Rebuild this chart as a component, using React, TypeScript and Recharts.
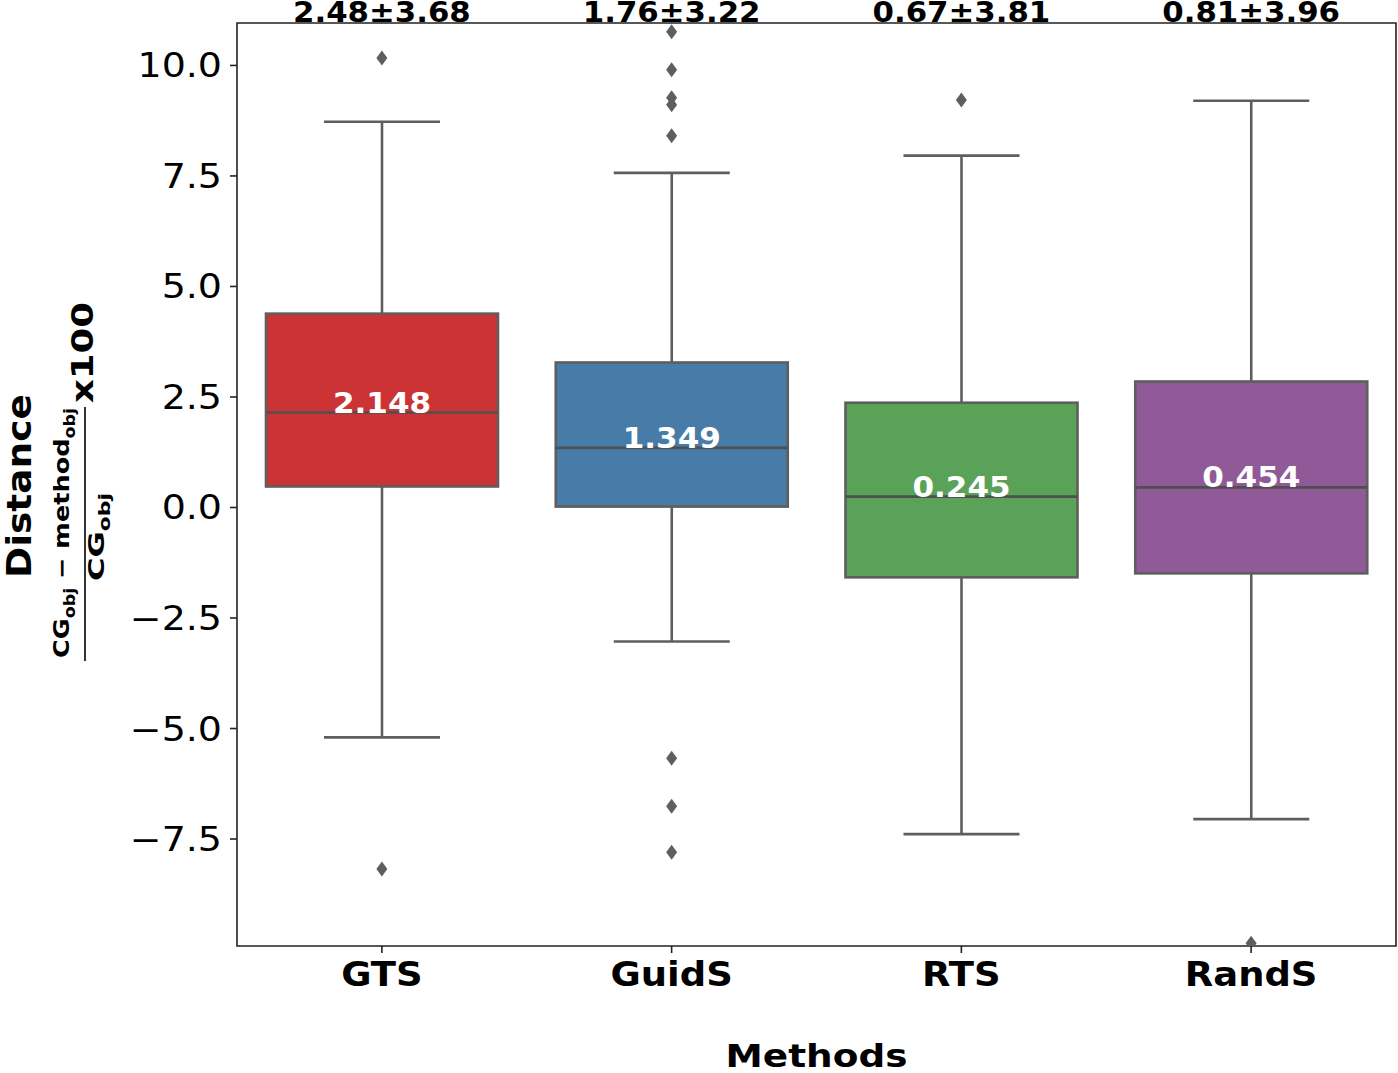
import React from "react";
import { Bar, ComposedChart, ReferenceArea, Scatter, XAxis, YAxis } from "recharts";

const methods = ["GTS", "GuidS", "RTS", "RandS"];
const q1 = [0.475, 0.02, -1.58, -1.49];
const medians = [2.148, 1.349, 0.245, 0.454];
const q3 = [4.385, 3.28, 2.37, 2.85];
const whiskerLow = [-5.2, -3.03, -7.39, -7.05];
const whiskerHigh = [8.725, 7.57, 7.96, 9.2];
const meanStd = ["2.48±3.68", "1.76±3.22", "0.67±3.81", "0.81±3.96"];
const outliers = [
    [10.17, -8.18],
    [10.76, 9.9, 9.27, 9.11, 8.41, -5.67, -6.76, -7.8],
    [9.22],
    [-9.86],
];
const yTicks = [-7.5, -5, -2.5, 0, 2.5, 5, 7.5, 10];

const colors = ["#cc3335", "#477ca8", "#59a257", "#905998"];
const lineColor = "#5e5e5e";
const FONT = "DejaVu Sans";

const boxData = methods.map((name, i) => ({
    name,
    box: [q1[i], q3[i]],
    q1: q1[i],
    q3: q3[i],
    median: medians[i],
    lo: whiskerLow[i],
    hi: whiskerHigh[i],
}));

const outlierData = methods.flatMap((name, i) => outliers[i].map((value) => ({ name, value })));

// text helper: stretched horizontally to match the reference glyph proportions
function Txt({ x, y, size, bold = false, sx = 1, rot = 0, anchor = "middle", fill = "#000", len, children }: any) {
    return (
        <text
            transform={`translate(${x},${y}) rotate(${rot}) scale(${sx},1)`}
            fontSize={size}
            fontFamily={FONT}
            fontWeight={bold ? "bold" : "normal"}
            textAnchor={anchor}
            fill={fill}
            textLength={len}
            lengthAdjust={len ? "spacingAndGlyphs" : undefined}
        >
            {children}
        </text>
    );
}

function BoxShape(props: any) {
    const { x, y, width, height, payload, index } = props;
    const top = Math.min(y, y + height);
    const h = Math.abs(height);
    const k = h / (payload.q3 - payload.q1);
    const py = (v: number) => top + (payload.q3 - v) * k;
    const cx = x + width / 2;
    const cap = width / 4;
    const med = py(payload.median);
    return (
        <g>
            <line x1={cx} x2={cx} y1={top} y2={py(payload.hi)} stroke={lineColor} strokeWidth={2.6} />
            <line x1={cx} x2={cx} y1={top + h} y2={py(payload.lo)} stroke={lineColor} strokeWidth={2.6} />
            <line x1={cx - cap} x2={cx + cap} y1={py(payload.hi)} y2={py(payload.hi)} stroke={lineColor} strokeWidth={2.6} />
            <line x1={cx - cap} x2={cx + cap} y1={py(payload.lo)} y2={py(payload.lo)} stroke={lineColor} strokeWidth={2.6} />
            <rect x={x} y={top} width={width} height={h} fill={colors[index]} stroke={lineColor} strokeWidth={2.6} />
            <line x1={x} x2={x + width} y1={med} y2={med} stroke="#4f4f4f" strokeWidth={2.6} />
            <Txt x={cx} y={med} size={29} bold sx={1.07} fill="#fff">
                {payload.median.toFixed(3)}
            </Txt>
        </g>
    );
}

function Diamond(props: any) {
    const { cx, cy } = props;
    return <path d={`M${cx},${cy - 7.5} L${cx + 5.5},${cy} L${cx},${cy + 7.5} L${cx - 5.5},${cy} Z`} fill={lineColor} />;
}

function YTick(props: any) {
    const { x, y, payload } = props;
    const v = payload.value as number;
    const label = (v < 0 ? "\u2212" : "") + Math.abs(v).toFixed(1);
    return (
        <Txt x={x} y={y + 12} size={33} sx={1.15} anchor="end">
            {label}
        </Txt>
    );
}

function XTick(props: any) {
    const { x, y, payload } = props;
    return (
        <Txt x={x} y={y + 24} size={33} bold sx={1.12}>
            {payload.value}
        </Txt>
    );
}

function TopTick(props: any) {
    const { x, payload } = props;
    const i = methods.indexOf(payload.value);
    return (
        <Txt x={x} y={22} size={28} bold sx={1.1}>
            {meanStd[i]}
        </Txt>
    );
}

export default function App() {
    return (
        <div style={{ width: 1398, height: 1073 }}>
            <style>{"body{margin:0}"}</style>
            <ComposedChart width={1398} height={1073} data={boxData} margin={{ top: 0, right: 2, bottom: 0, left: 0 }}>
                <XAxis
                    dataKey="name"
                    height={127}
                    allowDuplicatedCategory={false}
                    tickSize={7}
                    tickMargin={9}
                    tickLine={{ stroke: "#222", strokeWidth: 1.6 }}
                    axisLine={false}
                    tick={<XTick />}
                    interval={0}
                />
                <XAxis
                    xAxisId="top"
                    orientation="top"
                    dataKey="name"
                    height={23}
                    allowDuplicatedCategory={false}
                    tickLine={false}
                    axisLine={false}
                    tick={<TopTick />}
                    interval={0}
                />
                <YAxis
                    type="number"
                    width={237}
                    domain={[-9.92, 10.96]}
                    allowDataOverflow
                    ticks={yTicks}
                    interval={0}
                    tickSize={7}
                    tickMargin={8}
                    tickLine={{ stroke: "#222", strokeWidth: 1.6 }}
                    axisLine={false}
                    tick={<YTick />}
                />
                <ReferenceArea y1={-9.92} y2={10.96} fill="none" stroke="#222" strokeWidth={1.6} />
                <Bar dataKey="box" barSize={232} shape={<BoxShape />} isAnimationActive={false} />
                <Scatter data={outlierData} dataKey="value" shape={<Diamond />} isAnimationActive={false} />

                {/* y axis label */}
                <Txt x={31} y={486} size={33} bold rot={-90} len={184}>
                    Distance
                </Txt>
                <text transform="translate(69,533) rotate(-90)" fontFamily={FONT} fontWeight="bold" fontSize={22} textAnchor="middle" textLength={250} lengthAdjust="spacingAndGlyphs">
                    CG<tspan fontSize={15} dy={6}>obj</tspan>
                    <tspan fontSize={22} dy={-6}>{" \u2212 method"}</tspan>
                    <tspan fontSize={15} dy={6}>obj</tspan>
                </text>
                <line x1={85} x2={85} y1={407} y2={661} stroke="#000" strokeWidth={1.6} />
                <text transform="translate(104,537) rotate(-90)" fontFamily={FONT} fontWeight="bold" fontSize={22} textAnchor="middle" textLength={88} lengthAdjust="spacingAndGlyphs">
                    CG<tspan fontSize={15} dy={6}>obj</tspan>
                </text>
                <Txt x={93} y={403} size={30} bold rot={-90} anchor="start" len={101}>
                    x100
                </Txt>

                {/* x axis label */}
                <Txt x={816.5} y={1067} size={32} bold sx={1.17}>
                    Methods
                </Txt>
            </ComposedChart>
        </div>
    );
}
